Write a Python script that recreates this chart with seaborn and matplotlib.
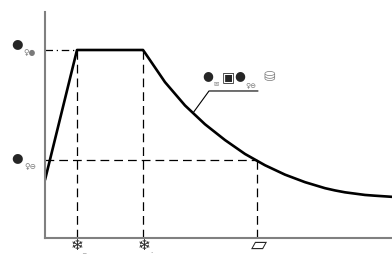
import matplotlib.pyplot as plt
import pandas as pd
import seaborn as sns

# spectrum (period in units of ~Tg, ordinate in units of the plateau)
period = [0.0, 0.32, 0.98, 1.0, 1.1, 1.2, 1.3, 1.4, 1.5, 1.6, 1.7, 1.8, 1.9, 2.0, 2.1, 2.2, 2.3, 2.4, 2.5,
          2.6, 2.7, 2.8, 2.9, 3.0, 3.1, 3.2, 3.3, 3.47]
spectrum = [0.309, 1.0, 1.0, 0.985, 0.907, 0.829, 0.767, 0.705, 0.655, 0.605, 0.563, 0.521, 0.484, 0.447,
            0.417, 0.387, 0.362, 0.337, 0.317, 0.297, 0.281, 0.265, 0.253, 0.243, 0.236, 0.229, 0.225, 0.219]

t_marks = [0.32, 0.98, 2.12]
s_plateau = 1.0
s_design = 0.413

y_labels = ['●', '●']
y_subs = ['♀●', '♀⊖']
x_labels = ['❄', '❄', '▱']
x_subs = ['_', '.', '']
curve_parts = ['●', '▣', '●']
curve_subs = ['✉', '♀⊖']
curve_tail = '⛁'

sns.set_style('white')
plt.rcParams['font.family'] = ['DejaVu Sans']

df = pd.DataFrame({'T': period, 'S': spectrum})

W, H = 392, 254
fig = plt.figure(figsize=(W / 100, H / 100), dpi=100)
ax = fig.add_axes([45 / W, 1 - 238 / H, 347 / W, 226 / H])


def px(x, y):
    return x / W, 1 - y / H


sns.lineplot(data=df, x='T', y='S', color='black', linewidth=1.9, ax=ax)

# guide lines
dash = (0, (7, 4))
ax.plot([0, t_marks[0]], [s_plateau, s_plateau], color='black', lw=0.9, ls=(0, (6, 3, 1, 3)))
ax.plot([t_marks[0], t_marks[0]], [0, s_plateau], color='black', lw=0.9, ls=dash)
ax.plot([t_marks[1], t_marks[1]], [0, s_plateau], color='black', lw=0.9, ls=dash)
ax.plot([0, t_marks[2]], [s_design, s_design], color='black', lw=0.9, ls=dash)
ax.plot([t_marks[2], t_marks[2]], [0, s_design], color='black', lw=0.9, ls=dash)

ax.set_xlim(0, 3.47)
ax.set_ylim(0, 226 / 188)
ax.set_xticks(t_marks)
ax.set_yticks([s_plateau, s_design])
ax.set_xticklabels([])
ax.set_yticklabels([])
ax.tick_params(axis='both', direction='in', length=7, width=1, color='black')
ax.set_xlabel('')
ax.set_ylabel('')
sns.despine(ax=ax)
for side in ['left', 'bottom']:
    ax.spines[side].set_color('#808080')
    ax.spines[side].set_linewidth(1.5)

gray = '#7a7a7a'

# y labels
for yc, lab, sub in zip([44, 158], y_labels, y_subs):
    fig.text(*px(17, yc), lab, fontsize=9.5, ha='center', va='center')
    fig.text(*px(30, yc + 9), sub, fontsize=5.5, color=gray, ha='center', va='center')

# x labels
for xc, lab, sub in zip([77, 144, 259], x_labels, x_subs):
    fig.text(*px(xc, 245), lab, fontsize=11 if lab != '▱' else 15, ha='center', va='center')
    if sub:
        fig.text(*px(xc + 7, 251), sub, fontsize=5, color=gray, ha='center', va='center')

# curve label with leader
ax.plot([1.48, 1.64, 2.13], [0.665, 0.782, 0.782], color='black', lw=0.8)
fig.text(*px(208, 76), curve_parts[0], fontsize=9, ha='center', va='center')
fig.text(*px(228, 77), curve_parts[1], fontsize=10, ha='center', va='center')
fig.text(*px(240, 76), curve_parts[2], fontsize=9, ha='center', va='center')
fig.text(*px(216, 85), curve_subs[0], fontsize=4.5, color=gray, ha='center', va='center')
fig.text(*px(251, 85), curve_subs[1], fontsize=5, color=gray, ha='center', va='center')
fig.text(*px(269, 76), curve_tail, fontsize=10, color=gray, ha='center', va='center')

fig.savefig('out.png', dpi=100)
